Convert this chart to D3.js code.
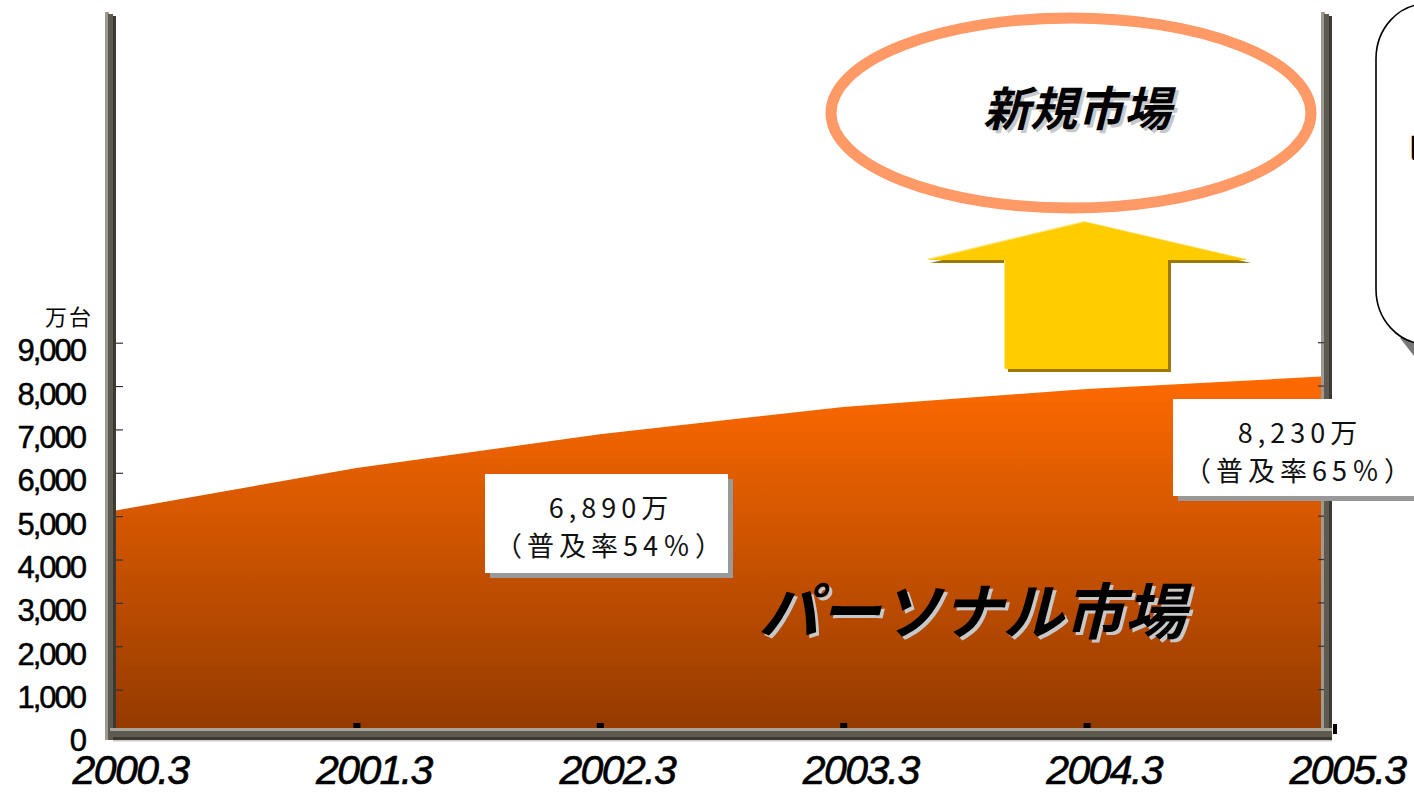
<!DOCTYPE html>
<head>
  <meta charset="utf-8">
  <script src="https://d3js.org/d3.v7.min.js"></script>
  <style>
    body { margin: 0; background: #fff; }
    svg { display: block; }
  </style>
</head>
<body>
<svg width="1414" height="793"></svg>
<script>

  // data
  let periods = ["2000.3", "2001.3", "2002.3", "2003.3", "2004.3", "2005.3"],
    units = [5120, 6110, 6890, 7520, 7930, 8230],   // 万台
    yTicks = [0, 1000, 2000, 3000, 4000, 5000, 6000, 7000, 8000, 9000],
    callouts = [
      {period: "2002.3", line1: "6,890万", line2: "（普及率54％）"},
      {period: "2005.3", line1: "8,230万", line2: "（普及率65％）"}
    ];

  let svg = d3.select("svg"),
    width = +svg.attr("width"),
    height = +svg.attr("height");

  let x = d3.scalePoint().domain(periods).range([113, 1330]),
    y = d3.scaleLinear().domain([0, 9000]).range([733, 342.7]);

  let defs = svg.append("defs");
  let grad = defs.append("linearGradient")
    .attr("id", "areaGrad")
    .attr("x1", 0).attr("y1", 0).attr("x2", 0).attr("y2", 1);
  grad.append("stop").attr("offset", "0%").attr("stop-color", "#ff6a00");
  grad.append("stop").attr("offset", "100%").attr("stop-color", "#933a00");

  // personal market area
  let area = d3.area()
    .x(function (d, i) { return x(periods[i]); })
    .y0(y(0))
    .y1(function (d) { return y(d); });

  svg.append("path")
    .datum(units)
    .attr("d", area)
    .attr("fill", "url(#areaGrad)");

  // y axis (ticks point into the plot)
  let yAxis = svg.append("g")
    .attr("transform", "translate(116,0)")
    .call(d3.axisLeft(y).tickValues(yTicks).tickSizeInner(-7).tickSizeOuter(0).tickPadding(31)
      .tickFormat(d3.format(",")));
  yAxis.select(".domain").remove();
  yAxis.selectAll("line").attr("stroke", "#333").attr("stroke-width", 1.2);
  yAxis.selectAll("text")
    .attr("dy", "0.58em")
    .attr("font-family", "Liberation Sans, Arial, sans-serif")
    .attr("font-size", 31)
    .attr("letter-spacing", -2)
    .attr("fill", "#000")
    .attr("stroke", "#000")
    .attr("stroke-width", 0.5);

  svg.append("text")
    .attr("x", 93).attr("y", 325)
    .attr("text-anchor", "end")
    .attr("font-family", "Noto Sans CJK JP, sans-serif")
    .attr("font-size", 22)
    .attr("letter-spacing", 2)
    .text("万台");

  // walls and floor (3D look)
  function wall(g, x0) {
    g.append("rect").attr("x", x0).attr("y", 12).attr("width", 4).attr("height", 728).attr("fill", "#a09b92");
    g.append("rect").attr("x", x0 + 3).attr("y", 14).attr("width", 5).attr("height", 726).attr("fill", "#5f5a50");
    g.append("rect").attr("x", x0 + 8).attr("y", 16).attr("width", 3).attr("height", 724).attr("fill", "#3c3933");
  }
  let frame = svg.append("g");
  wall(frame, 105);
  wall(frame, 1321);
  frame.append("rect").attr("x", 110).attr("y", 728).attr("width", 1222).attr("height", 3).attr("fill", "#a8a49b");
  frame.append("rect").attr("x", 112).attr("y", 731).attr("width", 1220).attr("height", 6).attr("fill", "#5f5a50");
  frame.append("rect").attr("x", 113).attr("y", 737).attr("width", 1219).attr("height", 3).attr("fill", "#3c3933");
  frame.append("rect").attr("x", 113).attr("y", 740).attr("width", 1219).attr("height", 1.5).attr("fill", "#ccc");

  // small tick marks on right wall
  frame.selectAll(".rt").data(yTicks.slice(1)).enter().append("line")
    .attr("x1", 1318).attr("x2", 1324)
    .attr("y1", function (d) { return y(d); }).attr("y2", function (d) { return y(d); })
    .attr("stroke", "#333").attr("stroke-width", 1.2);

  // floor tick squares
  svg.selectAll(".ft").data(periods.slice(1, 5)).enter().append("rect")
    .attr("x", function (d) { return x(d) - 3; })
    .attr("y", 723).attr("width", 7).attr("height", 5).attr("fill", "#000");
  svg.append("rect").attr("x", x(periods[5]) + 3).attr("y", 724).attr("width", 4).attr("height", 10).attr("fill", "#000");

  // x axis labels
  let xAxis = svg.append("g")
    .attr("transform", "translate(0,741)")
    .call(d3.axisBottom(x).tickSize(0).tickPadding(0));
  xAxis.select(".domain").remove();
  xAxis.selectAll("text")
    .attr("y", 43).attr("dy", 0)
    .attr("dx", 17)
    .attr("font-family", "Liberation Sans, Arial, sans-serif")
    .attr("font-style", "italic")
    .attr("font-size", 41)
    .attr("letter-spacing", -1.6)
    .attr("fill", "#000")
    .attr("stroke", "#000")
    .attr("stroke-width", 0.6);

  // value callouts
  let boxes = [
    {x0: 485, y0: 474, w: 243, h: 99, cx: 608, b1: 518, b2: 556},
    {x0: 1173, y0: 399, w: 260, h: 97, cx: 1297, b1: 443, b2: 481}
  ];
  callouts.forEach(function (c, i) {
    let b = boxes[i], g = svg.append("g");
    g.append("rect").attr("x", b.x0 + 5).attr("y", b.y0 + 5).attr("width", b.w).attr("height", b.h).attr("fill", "#999");
    g.append("rect").attr("x", b.x0).attr("y", b.y0).attr("width", b.w).attr("height", b.h).attr("fill", "#fff");
    [c.line1, c.line2].forEach(function (t, k) {
      g.append("text")
        .attr("x", b.cx + 3).attr("y", k ? b.b2 : b.b1)
        .attr("text-anchor", "middle")
        .attr("font-family", "Noto Sans CJK JP, sans-serif")
        .attr("font-size", 27)
        .attr("letter-spacing", 5)
        .attr("fill", "#111")
        .text(t);
    });
  });

  // big italic labels with shadow
  function bigLabel(t, cx, by, size) {
    let g = svg.append("g");
    [["#c8c8c8", 3], ["#000", 0]].forEach(function (s) {
      g.append("text")
        .attr("x", cx + s[1]).attr("y", by + s[1])
        .attr("text-anchor", "middle")
        .attr("font-family", "Noto Sans CJK JP, sans-serif")
        .attr("font-weight", "bold")
        .attr("font-style", "italic")
        .attr("font-size", size)
        .attr("fill", s[0])
        .text(t);
    });
  }
  bigLabel("パーソナル市場", 972, 634, 61);

  // new market ellipse
  svg.append("ellipse")
    .attr("cx", 1071).attr("cy", 113).attr("rx", 240).attr("ry", 95)
    .attr("fill", "none").attr("stroke", "#ff9966").attr("stroke-width", 11);
  bigLabel("新規市場", 1077, 126, 47);

  // yellow arrow
  let arrow = [[1085, 222], [1248, 260], [1168, 260], [1168, 369], [1005, 369], [1005, 260], [927, 260]];
  svg.append("polygon")
    .attr("points", arrow.map(function (p) { return [p[0] + 3, p[1] + 3]; }).join(" "))
    .attr("fill", "#9c7a00");
  svg.append("polygon")
    .attr("points", arrow.map(function (p) { return [p[0] - 1, p[1] - 1]; }).join(" "))
    .attr("fill", "#ffe680");
  svg.append("polygon")
    .attr("points", arrow.join(" "))
    .attr("fill", "#ffcc00");

  // side note bubble (cut off at the right edge)
  svg.append("path")
    .attr("d", "M1400,338 L1414,338 L1414,356 Z")
    .attr("fill", "#777");
  svg.append("rect")
    .attr("x", 1376).attr("y", 4).attr("width", 120).attr("height", 340)
    .attr("rx", 50).attr("ry", 55)
    .attr("fill", "#fff").attr("stroke", "#000").attr("stroke-width", 1.6);
  svg.append("text")
    .attr("x", 1409).attr("y", 160)
    .attr("font-family", "Noto Sans CJK JP, sans-serif")
    .attr("font-size", 30)
    .text("l");

</script>
</body>
